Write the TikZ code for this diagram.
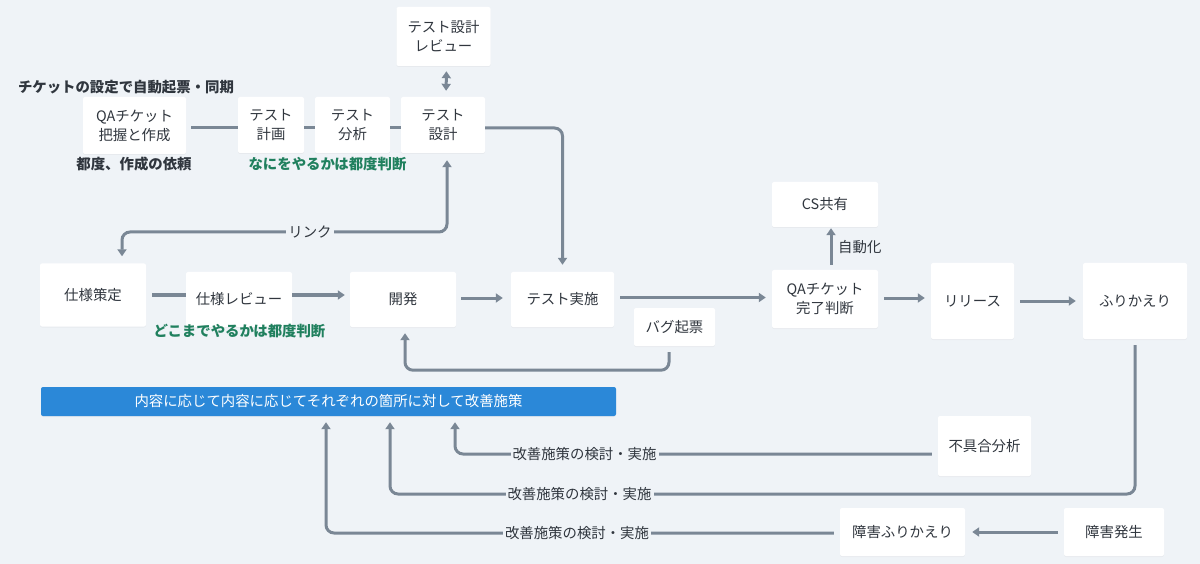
\documentclass[tikz,border=0pt]{standalone}
\usepackage{fontspec}
\setmainfont{Noto Sans CJK JP}
\usetikzlibrary{arrows.meta,shadows}
\definecolor{bg}{RGB}{239,243,247}
\definecolor{ln}{RGB}{122,135,149}
\definecolor{txt}{RGB}{48,54,62}
\definecolor{grn}{RGB}{32,128,94}
\definecolor{barblue}{RGB}{43,136,216}
\newcommand\myfs{\fontsize{14.4pt}{19pt}\selectfont}
\tikzset{
  box/.style={fill=white, rounded corners=2pt, text=txt, align=center, inner sep=0pt, font=\myfs,
    drop shadow={opacity=0.07, shadow xshift=0pt, shadow yshift=-1pt}},
  headlbl/.style={text=txt, font=\myfs\bfseries, inner sep=0pt},
  txtlbl/.style={text=txt, font=\myfs, inner sep=0pt},
  lbl/.style={fill=bg, text=txt, font=\myfs, inner sep=2pt},
  conn/.style={draw=ln, line width=3pt, rounded corners=8pt},
  arr/.style={conn, -{Triangle[width=9pt,length=7pt]}},
  darr/.style={conn, {Triangle[width=9pt,length=7pt]}-{Triangle[width=9pt,length=7pt]}},
}
\begin{document}
\begin{tikzpicture}[x=1pt,y=-1pt]
\fill[bg] (0,0) rectangle (1200,564);
\useasboundingbox (0,0) rectangle (1200,564);

% nodes
\node[box, minimum width=94pt, minimum height=59pt] (tdr) at (443.5,36.5) {テスト設計\\レビュー};
\node[box, minimum width=103pt, minimum height=57pt] (qa) at (134.5,125.5) {QAチケット\\把握と作成};
\node[box, minimum width=66pt, minimum height=56pt] (plan) at (271,125) {テスト\\計画};
\node[box, minimum width=75pt, minimum height=56pt] (anal) at (352.5,125) {テスト\\分析};
\node[box, minimum width=84pt, minimum height=56pt] (design) at (443,125) {テスト\\設計};
\node[box, minimum width=106pt, minimum height=63pt] (spec) at (93,295) {仕様策定};
\node[box, minimum width=106pt, minimum height=55pt] (specrev) at (239,299.5) {仕様レビュー};
\node[box, minimum width=106pt, minimum height=55pt] (dev) at (403,299.5) {開発};
\node[box, minimum width=103pt, minimum height=55pt] (exec) at (562.5,299.5) {テスト実施};
\node[box, minimum width=81pt, minimum height=38pt] (bug) at (674.5,327) {バグ起票};
\node[box, minimum width=106pt, minimum height=58pt] (qadone) at (825,299) {QAチケット\\完了判断};
\node[box, minimum width=106pt, minimum height=45pt] (cs) at (825,204.5) {CS共有};
\node[box, minimum width=83pt, minimum height=76pt] (rel) at (972.5,301) {リリース};
\node[box, minimum width=104pt, minimum height=76pt] (furi) at (1135,301) {ふりかえり};
\node[box, fill=barblue, text=white, minimum width=575pt, minimum height=29pt] (bar) at (328.5,401.5) {内容に応じて内容に応じてそれぞれの箇所に対して改善施策};
\node[box, minimum width=93pt, minimum height=60pt] (fugu) at (984.5,446) {不具合分析};
\node[box, minimum width=125pt, minimum height=48pt] (shfuri) at (902.5,532) {障害ふりかえり};
\node[box, minimum width=100pt, minimum height=48pt] (shhas) at (1114,532) {障害発生};

% free labels
\node[headlbl] (h1) at (126,87) {チケットの設定で自動起票・同期};
\node[headlbl] (h2) at (134,164) {都度、作成の依頼};
\node[headlbl, text=grn] (h3) at (327.5,164) {なにをやるかは都度判断};
\node[headlbl, text=grn] (h4) at (239.5,331) {どこまでやるかは都度判断};

% connectors
\draw[darr, shorten <=5pt, shorten >=6pt] ([xshift=3pt]tdr.south) -- ([xshift=3pt]design.north);
\draw[conn, shorten <=5pt] ([yshift=-2.5pt]qa.east) -- ([yshift=-2.5pt]qa.east -| plan.west);
\draw[conn] ([yshift=-3pt]plan.east) -- ([yshift=-3pt]anal.west);
\draw[conn] ([yshift=-3pt]anal.east) -- ([yshift=-3pt]design.west);
\draw[arr, shorten >=7pt] ([yshift=-3pt]design.east) -| (exec.north);

\coordinate (lk) at (310,232);
\draw[darr, shorten <=7pt, shorten >=7pt] ([xshift=4pt]design.south) |- (lk) -| ([xshift=29pt]spec.north);
\node[lbl] (lkl) at (lk) {リンク};

\draw[conn, shorten <=6pt] (spec.east) -- (spec.east -| specrev.west);
\draw[arr, shorten >=5pt] ([yshift=4.5pt]specrev.east) -- ([yshift=4.5pt]dev.west);
\draw[arr, shorten <=5pt, shorten >=8pt] ([yshift=1.5pt]dev.east) -- ([yshift=1.5pt]exec.west);
\draw[arr, shorten <=6pt, shorten >=6pt] ([yshift=2pt]exec.east) -- ([yshift=2pt]exec.east -| qadone.west);
\draw[arr, shorten <=5pt, shorten >=1pt] ([xshift=6pt]qadone.north) -- ([xshift=6pt]cs.south);
\node[txtlbl, anchor=west] (auto) at (838,247) {自動化};
\draw[arr, shorten <=6pt, shorten >=6pt] ([yshift=1pt]qadone.east) -- ([yshift=1pt]qadone.east -| rel.west);
\draw[arr, shorten <=6pt, shorten >=7pt] (rel.east) -- (furi.west);
\draw[arr, shorten <=6pt, shorten >=6pt] ([xshift=-5.5pt]bug.south) -- ++(0,24) -| ([xshift=2pt]dev.south);

\coordinate (f2) at (579.5,494);
\draw[arr, shorten <=6pt, shorten >=6pt] (furi.south) |- (f2) -| ([xshift=61.5pt]bar.south);
\node[lbl] (f2l) at (f2) {改善施策の検討・実施};

\coordinate (f1) at (584.5,454);
\draw[arr, shorten <=6pt, shorten >=6pt] ([yshift=-8pt]fugu.west) -| ([xshift=126.5pt]bar.south);
\node[lbl] (f1l) at (f1) {改善施策の検討・実施};

\coordinate (f3) at (577,533);
\draw[arr, shorten <=6pt, shorten >=6pt] ([yshift=-1pt]shfuri.west) -| ([xshift=-2.5pt]bar.south);
\node[lbl] (f3l) at (f3) {改善施策の検討・実施};

\draw[arr, shorten <=6pt, shorten >=7pt] (shhas.west) -- (shfuri.east);
\end{tikzpicture}
\end{document}
